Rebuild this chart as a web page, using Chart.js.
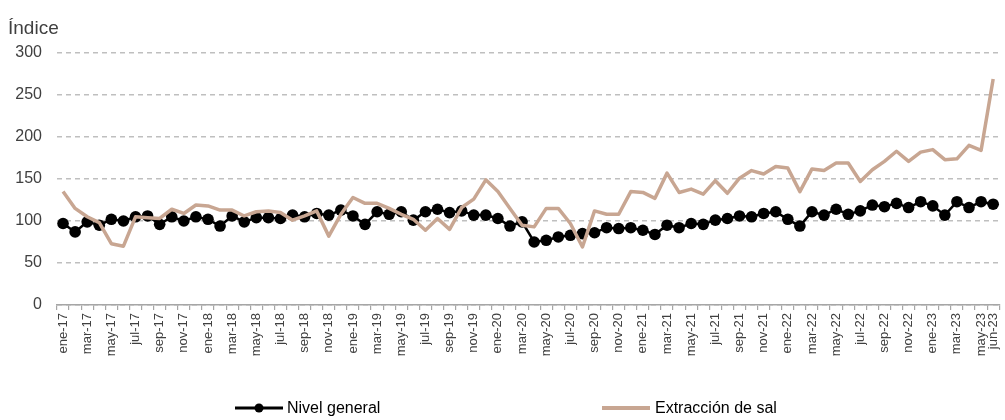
<!DOCTYPE html>
<html>
<head>
<meta charset="utf-8">
<script src="https://cdn.jsdelivr.net/npm/chart.js@4/dist/chart.umd.min.js"></script>
<style>
  html, body { margin: 0; padding: 0; background: #fff; }
  #wrap { width: 1005px; height: 420px; position: relative; }
</style>
</head>
<body>
<div id="wrap"><canvas id="c" width="1005" height="420"></canvas></div>
<script>
const monthNames = ['ene','feb','mar','abr','may','jun','jul','ago','sep','oct','nov','dic'];
const years = ['17','18','19','20','21','22','23'];
const categories = [];
years.forEach(y => monthNames.forEach((m, i) => {
  if (!(y === '23' && i > 5)) categories.push(m + '-' + y);
}));

const nivelGeneral = [
  97, 87, 99, 95, 102, 100, 105, 106, 96, 105, 100, 105,
  102, 94, 106, 99, 104, 104, 103, 107, 105, 109, 107, 113,
  106, 96, 111, 108, 111, 101, 111, 114, 110, 112, 107, 107,
  103, 94, 99, 75, 77, 81, 83, 85, 86, 92, 91, 92,
  89, 84, 95, 92, 97, 96, 101, 103, 106, 105, 109, 111,
  102, 94, 111, 107, 114, 108, 112, 119, 117, 121, 116, 123,
  118, 107, 123, 116, 123, 120
];
const extraccionSal = [
  135, 115, 105, 98, 73, 70, 105, 104, 103, 114, 109, 119,
  118, 113, 113, 106, 111, 112, 110, 101, 106, 112, 82, 108,
  128, 121, 121, 115, 108, 102, 89, 103, 90, 116, 126, 149,
  135, 115, 95, 93, 115, 115, 97, 69, 112, 108, 108, 135,
  134, 127, 157, 134, 138, 132, 148, 133, 151, 160, 156, 165,
  163, 135, 162, 160, 169, 169, 147, 161, 171, 183, 171, 182,
  185, 173, 174, 190, 184, 269
];
const yTicks = [0, 50, 100, 150, 200, 250, 300];
const seriesNames = ['Nivel general', 'Extracción de sal'];
const axisTitle = 'Índice';

const FONT = "'Liberation Sans', Arial, Helvetica, sans-serif";
const TAN = '#C8A692';
const TXT = '#404040';

const extras = {
  id: 'extras',
  afterDraw(chart) {
    const ctx = chart.ctx;
    ctx.save();
    ctx.fillStyle = TXT;
    ctx.font = '19px ' + FONT;
    ctx.textBaseline = 'alphabetic';
    ctx.textAlign = 'left';
    ctx.fillText(axisTitle, 8, 34);
    const ly = 408;
    ctx.lineCap = 'butt';
    ctx.strokeStyle = '#000';
    ctx.lineWidth = 3;
    ctx.beginPath(); ctx.moveTo(235, ly); ctx.lineTo(283, ly); ctx.stroke();
    ctx.fillStyle = '#000';
    ctx.beginPath(); ctx.arc(259, ly, 4.5, 0, Math.PI * 2); ctx.fill();
    ctx.font = '16px ' + FONT;
    ctx.textBaseline = 'middle';
    ctx.fillStyle = '#000';
    ctx.fillText(seriesNames[0], 287, ly + 1);
    ctx.strokeStyle = TAN;
    ctx.lineWidth = 4;
    ctx.beginPath(); ctx.moveTo(602, ly); ctx.lineTo(650, ly); ctx.stroke();
    ctx.fillText(seriesNames[1], 655, ly + 1);
    ctx.restore();
  }
};

new Chart(document.getElementById('c'), {
  type: 'line',
  data: {
    labels: categories,
    datasets: [
      {
        label: seriesNames[0],
        data: nivelGeneral,
        borderColor: '#000',
        backgroundColor: '#000',
        borderWidth: 2.5,
        pointRadius: 5.8,
        pointBorderWidth: 0,
        pointBackgroundColor: '#000',
        tension: 0,
        order: 1
      },
      {
        label: seriesNames[1],
        data: extraccionSal,
        borderColor: TAN,
        backgroundColor: TAN,
        borderWidth: 3.5,
        pointRadius: 0,
        tension: 0,
        borderJoinStyle: 'round',
        order: 0
      }
    ]
  },
  options: {
    responsive: false,
    animation: false,
    layout: { padding: { top: 53, right: 2, left: 0, bottom: 0 } },
    plugins: { legend: { display: false }, tooltip: { enabled: false }, title: { display: false } },
    scales: {
      x: {
        offset: true,
        grid: { offset: true, drawOnChartArea: false, drawTicks: true, tickLength: 5, color: '#a6a6a6', lineWidth: 1.2 },
        border: { display: true, color: '#a6a6a6', width: 1.5 },
        ticks: {
          autoSkip: false,
          maxRotation: 90,
          minRotation: 90,
          padding: 3,
          color: TXT,
          font: { family: FONT, size: 13 },
          callback: function(v, i) {
            return (i % 2 === 0 || i === categories.length - 1) ? categories[i] : '';
          }
        },
        afterFit(scale) { scale.height = 115; scale.paddingLeft = 0; scale.paddingRight = 0; }
      },
      y: {
        min: yTicks[0],
        max: yTicks[yTicks.length - 1],
        afterBuildTicks(scale) { scale.ticks = yTicks.map(v => ({ value: v })); },
        grid: { drawTicks: false, color: '#bfbfbf', lineWidth: 1.5 },
        border: { display: false, dash: [5, 4] },
        ticks: { padding: 15, color: TXT, font: { family: FONT, size: 16 } },
        afterFit(scale) { scale.width = 57; }
      }
    }
  },
  plugins: [extras]
});
</script>
</body>
</html>
